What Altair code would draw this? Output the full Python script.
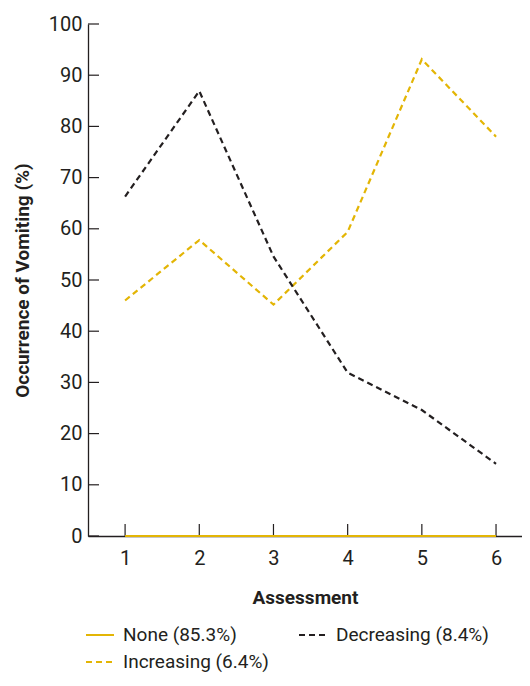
import altair as alt
import pandas as pd

assessments = [1, 2, 3, 4, 5, 6]
series_names = ["None (85.3%)", "Increasing (6.4%)", "Decreasing (8.4%)"]
none_vals = [0, 0, 0, 0, 0, 0]
increasing_vals = [46.0, 57.8, 45.2, 59.4, 93.1, 78.0]
decreasing_vals = [66.3, 86.9, 54.6, 31.9, 24.6, 14.1]
y_ticks = [0, 10, 20, 30, 40, 50, 60, 70, 80, 90, 100]

rows = []
for name, vals in zip(series_names, [none_vals, increasing_vals, decreasing_vals]):
    for a, v in zip(assessments, vals):
        rows.append({"Assessment": a, "value": v, "series": name})
df = pd.DataFrame(rows)

GOLD = "#E3B505"
DARK = "#231F20"
FONT = "Roboto, Liberation Sans, sans-serif"

W, H = 434, 512
xscale = alt.Scale(domain=[0.5, 6.35], nice=False, zero=False)
yscale = alt.Scale(domain=[0, 100], nice=False)

lines = alt.Chart(df).mark_line(strokeWidth=2.2, clip=False).encode(
    x=alt.X("Assessment:Q", scale=xscale,
            axis=alt.Axis(values=assessments, format="d", tickSize=0, labelPadding=12,
                          title="Assessment", titlePadding=20, grid=False)),
    y=alt.Y("value:Q", scale=yscale,
            axis=alt.Axis(values=y_ticks, tickSize=0, labelPadding=6,
                          title="Occurrence of Vomiting (%)", titlePadding=16, grid=False)),
    color=alt.Color("series:N",
                    scale=alt.Scale(domain=series_names, range=[GOLD, GOLD, DARK]),
                    legend=alt.Legend(title=None, orient="none", legendX=-3, legendY=596,
                                      columns=2, symbolType="stroke", symbolSize=784,
                                      symbolStrokeWidth=2, columnPadding=26, rowPadding=2,
                                      labelFontSize=19, labelFont=FONT, labelColor=DARK,
                                      labelOffset=8, labelLimit=300)),
    strokeDash=alt.StrokeDash("series:N",
                              scale=alt.Scale(domain=series_names, range=[[1, 0], [6, 4], [6, 4]]),
                              legend=None),
    order="Assessment:Q",
)

ytick_df = pd.DataFrame({"t": y_ticks})
xtick_df = pd.DataFrame({"a": assessments})

yticks = alt.Chart(ytick_df).mark_rule(color=DARK, strokeWidth=1.2).encode(
    y=alt.Y("t:Q", scale=yscale),
    x=alt.value(0), x2=alt.value(11),
)
xticks = alt.Chart(xtick_df).mark_rule(color=DARK, strokeWidth=1.2).encode(
    x=alt.X("a:Q", scale=xscale),
    y=alt.value(H), y2=alt.value(H - 12),
)

chart = alt.layer(yticks, xticks, lines).properties(
    width=W, height=H,
    autosize=alt.AutoSizeParams(type="none"),
    padding={"left": 80, "top": 16, "right": 0, "bottom": 142},
).configure_view(stroke=None).configure_axis(
    domainColor=DARK, domainWidth=1.3,
    labelFont=FONT, labelFontSize=20, labelColor=DARK,
    titleFont=FONT, titleFontSize=19, titleFontWeight="bold", titleColor=DARK,
)

chart.save("out.html", embed_options={"renderer": "svg", "actions": False})
